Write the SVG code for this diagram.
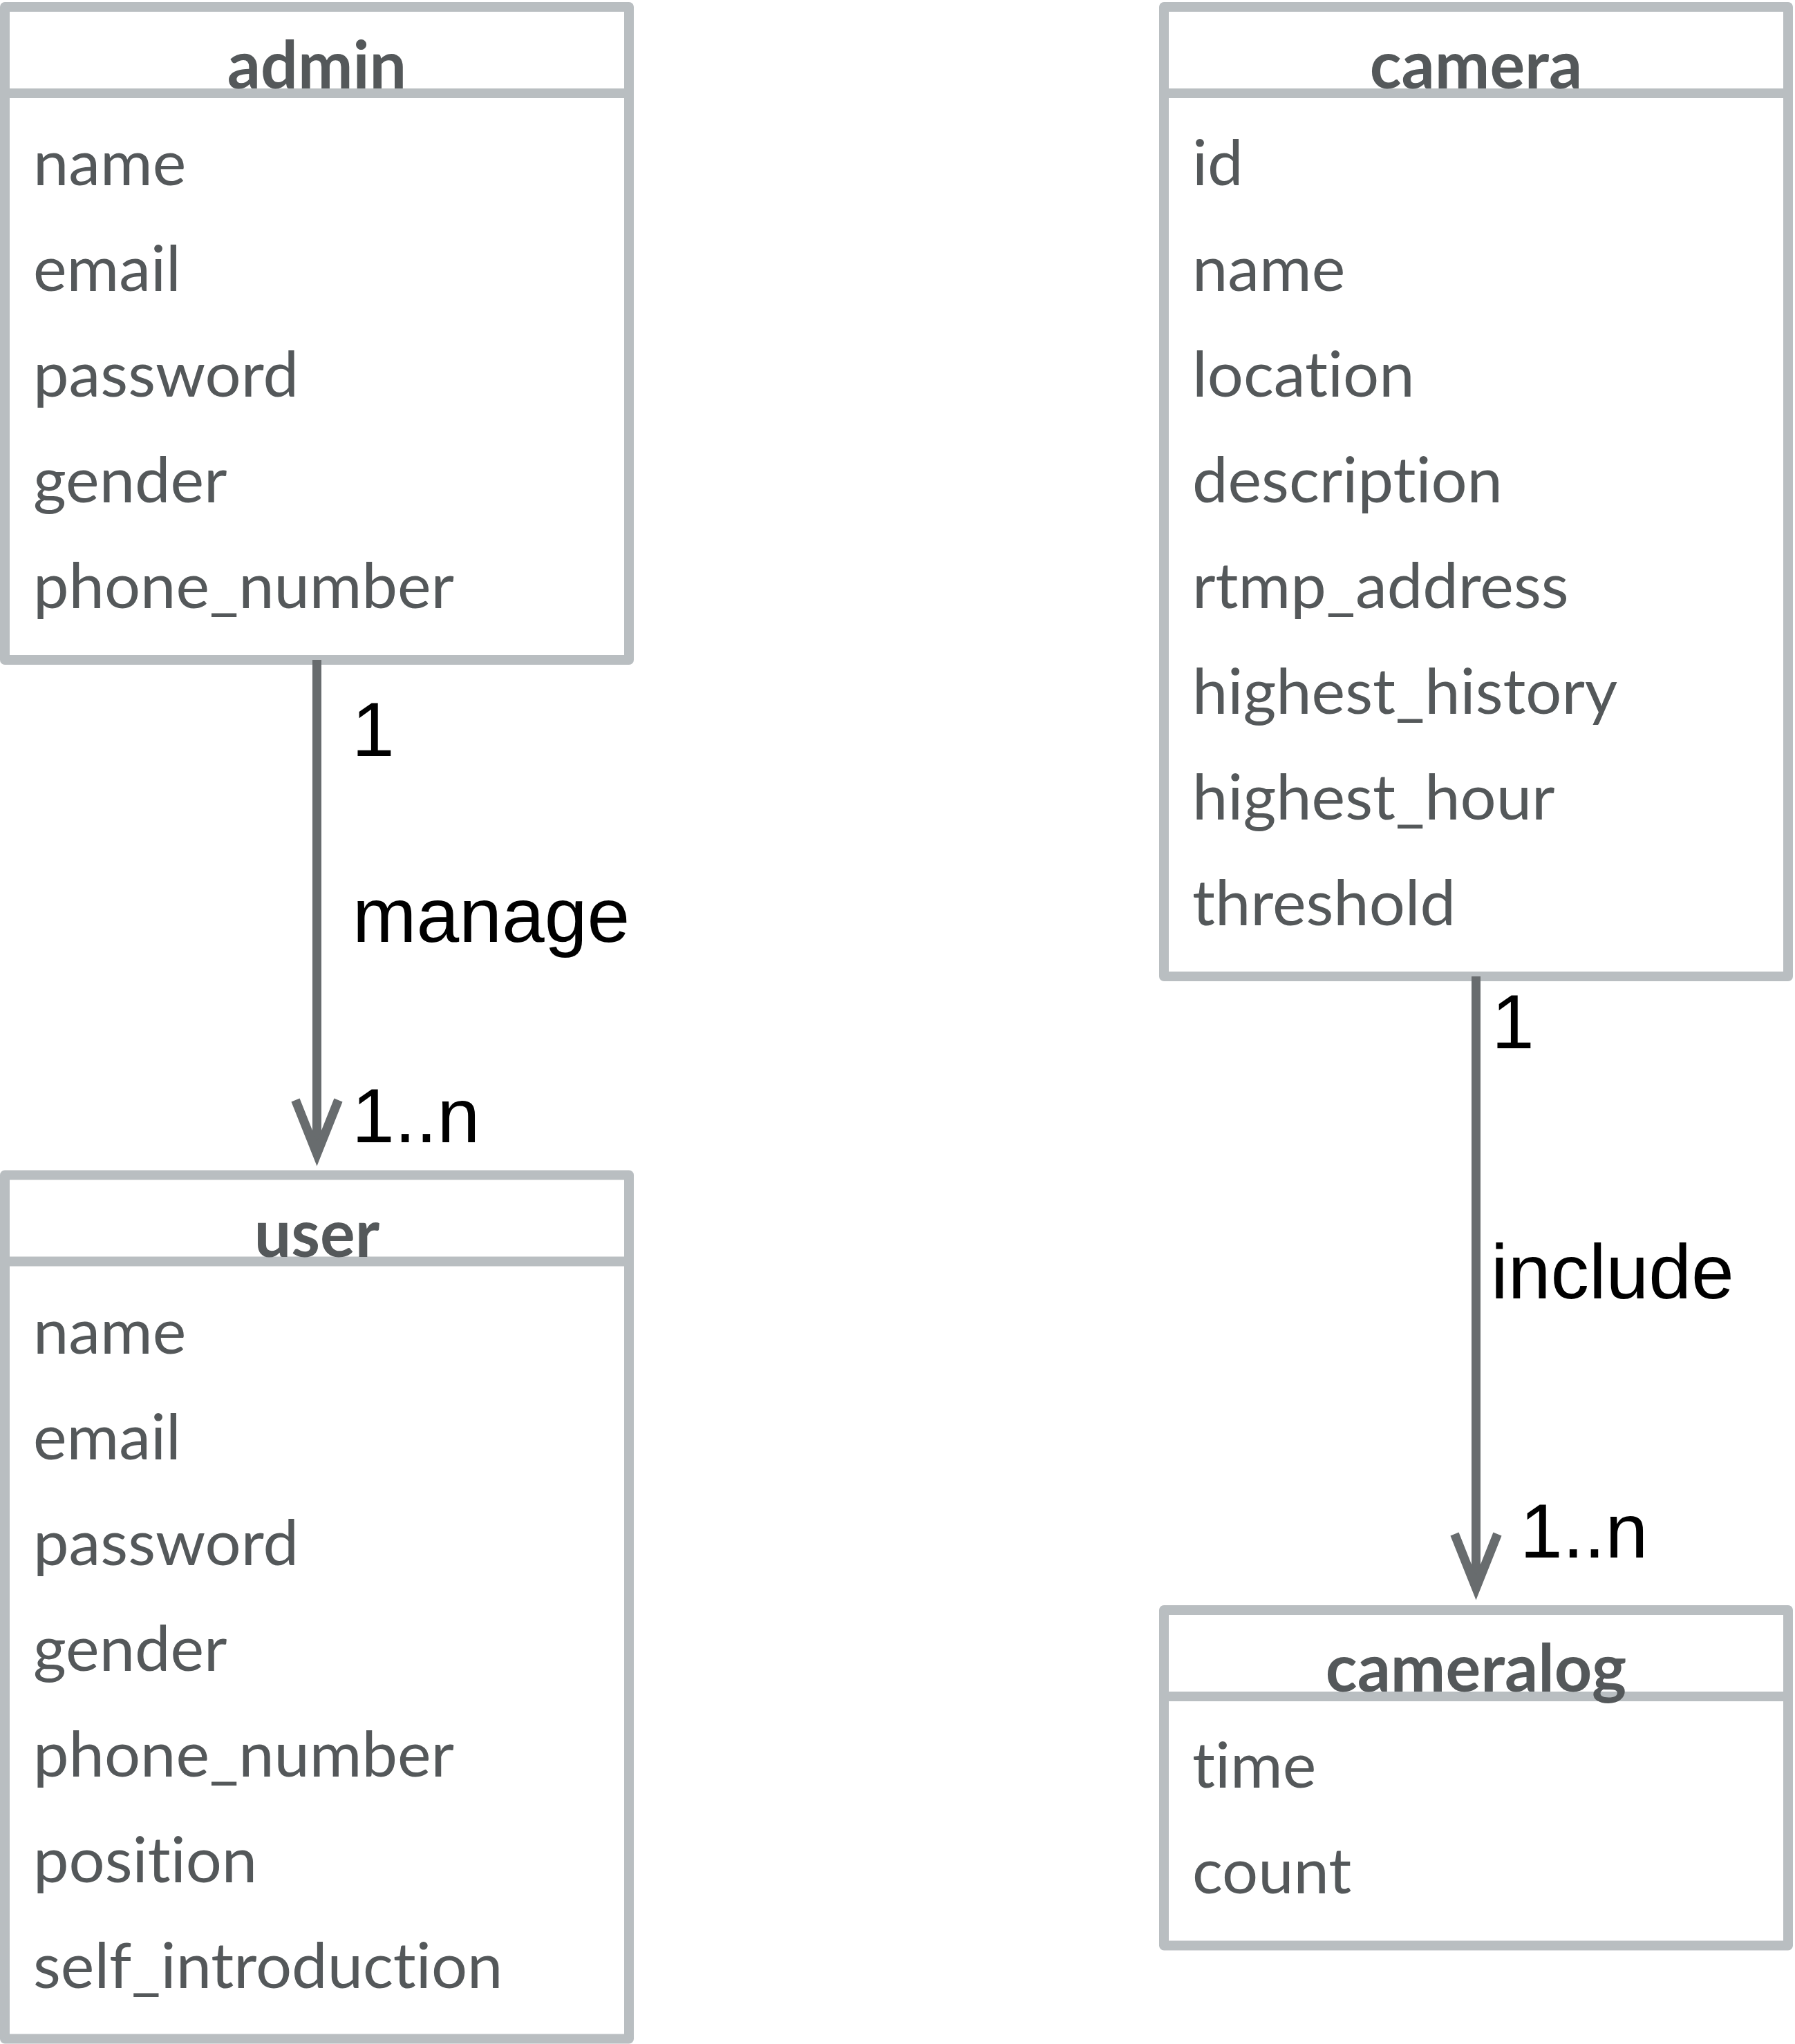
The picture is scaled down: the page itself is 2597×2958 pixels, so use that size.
<svg xmlns="http://www.w3.org/2000/svg" width="2597" height="2958" viewBox="0 0 2597 2958">
<style>
.box{fill:#ffffff;stroke:#b9bec1;stroke-width:14;stroke-linejoin:round}
.div{stroke:#b9bec1;stroke-width:14}
.title{font-family:Lato,"Liberation Sans",sans-serif;font-weight:700;font-size:95px;fill:#54585a;text-anchor:middle;font-variant-ligatures:none;font-feature-settings:"liga" 0,"clig" 0}
.attr{font-family:Lato,"Liberation Sans",sans-serif;font-size:92px;fill:#54585a;font-variant-ligatures:none;font-feature-settings:"liga" 0,"clig" 0}
.conn{stroke:#686c6e;stroke-width:13;fill:none}
.lbl{font-family:"Liberation Sans",Arial,sans-serif;font-size:111px;fill:#000000}
</style>
<defs>
<marker id="open" markerUnits="userSpaceOnUse" markerWidth="130" markerHeight="90" viewBox="-120 -45 130 90" refX="-22" refY="0" orient="auto" overflow="visible">
<path d="M-98,-31 L-20,0 L-98,31" fill="none" stroke="#686c6e" stroke-width="13" stroke-linejoin="miter" stroke-miterlimit="10"/>
</marker>
</defs>
<g id="admin">
<rect class="box" x="7" y="10" width="903" height="945"/>
<line class="div" x1="7" y1="135" x2="910" y2="135"/>
<text class="title" x="458.5" y="128">admin</text>
<text class="attr" x="48" y="268">name</text>
<text class="attr" x="48" y="421">email</text>
<text class="attr" x="48" y="574">password</text>
<text class="attr" x="48" y="727">gender</text>
<text class="attr" x="48" y="880">phone_number</text>
</g>
<g id="user">
<rect class="box" x="7" y="1700.5" width="903" height="1250"/>
<line class="div" x1="7" y1="1825.5" x2="910" y2="1825.5"/>
<text class="title" x="458.5" y="1818.5">user</text>
<text class="attr" x="48" y="1958.5">name</text>
<text class="attr" x="48" y="2111.5">email</text>
<text class="attr" x="48" y="2264.5">password</text>
<text class="attr" x="48" y="2417.5">gender</text>
<text class="attr" x="48" y="2570.5">phone_number</text>
<text class="attr" x="48" y="2723.5">position</text>
<text class="attr" x="48" y="2876.5">self_introduction</text>
</g>
<g id="camera">
<rect class="box" x="1684" y="10" width="903" height="1403"/>
<line class="div" x1="1684" y1="135" x2="2587" y2="135"/>
<text class="title" x="2135.5" y="128">camera</text>
<text class="attr" x="1725" y="268">id</text>
<text class="attr" x="1725" y="421">name</text>
<text class="attr" x="1725" y="574">location</text>
<text class="attr" x="1725" y="727">description</text>
<text class="attr" x="1725" y="880">rtmp_address</text>
<text class="attr" x="1725" y="1033">highest_history</text>
<text class="attr" x="1725" y="1186">highest_hour</text>
<text class="attr" x="1725" y="1339">threshold</text>
</g>
<g id="cameralog">
<rect class="box" x="1684" y="2330" width="903" height="485.5"/>
<line class="div" x1="1684" y1="2455" x2="2587" y2="2455"/>
<text class="title" x="2135.5" y="2448">cameralog</text>
<text class="attr" x="1725" y="2587">time</text>
<text class="attr" x="1725" y="2740">count</text>
</g>
<g id="connectors">
<g id="admin-user">
<line class="conn" x1="458.5" y1="955" x2="458.5" y2="1668" marker-end="url(#open)"/>
<text class="lbl" x="509" y="1094">1</text>
<text class="lbl" x="510" y="1363">manage</text>
<text class="lbl" x="509" y="1653">1..n</text>
</g>
<g id="camera-cameralog">
<line class="conn" x1="2135.5" y1="1413" x2="2135.5" y2="2296" marker-end="url(#open)"/>
<text class="lbl" x="2158" y="1517">1</text>
<text class="lbl" x="2157" y="1879">include</text>
<text class="lbl" x="2199" y="2254">1..n</text>
</g>
</g>
</svg>
